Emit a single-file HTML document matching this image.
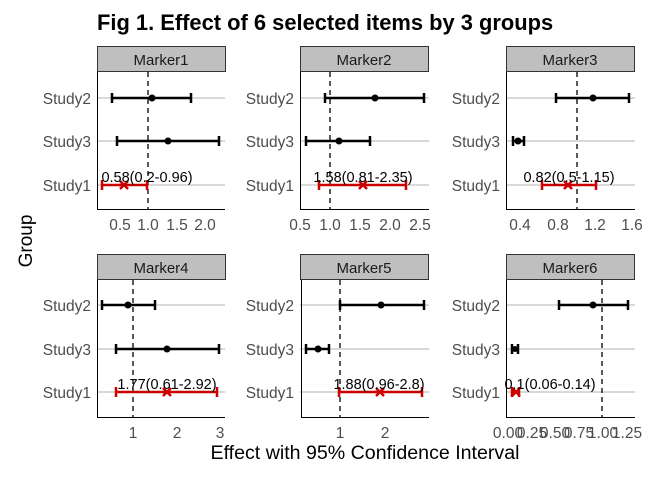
<!DOCTYPE html>
<html><head><meta charset="utf-8"><style>
html,body{margin:0;padding:0;background:#fff;}
svg{display:block;font-family:"Liberation Sans",Arial,sans-serif;}
.tk{font-size:15.5px;fill:#4d4d4d;}
.yl{font-size:15.5px;fill:#4d4d4d;text-anchor:end;}
.st{font-size:15px;fill:#1a1a1a;text-anchor:middle;}
.lab{font-size:14.5px;fill:#000;text-anchor:middle;}
.g{stroke:#b3b3b3;stroke-width:1;}
.b{stroke:#000;stroke-width:2.5;}
.r{stroke:#cc0000;stroke-width:2.5;}
.d{stroke:#000;stroke-width:1.3;stroke-dasharray:5,4;}
</style></head><body>
<svg width="672" height="480" viewBox="0 0 672 480">
<text x="97" y="30" font-size="21.9" font-weight="bold" fill="#000">Fig 1. Effect of 6 selected items by 3 groups</text>
<text transform="translate(32,241) rotate(-90)" font-size="19" text-anchor="middle" fill="#000">Group</text>
<text x="365" y="459" font-size="19.6" text-anchor="middle" fill="#000">Effect with 95% Confidence Interval</text>

<g id="p1">
<rect x="97.5" y="46.5" width="128" height="25" fill="#bfbfbf" stroke="#333"/>
<text class="st" x="161" y="65">Marker1</text>
<line class="g" x1="97" x2="225" y1="98" y2="98"/><line class="g" x1="97" x2="225" y1="141" y2="141"/><line class="g" x1="97" x2="225" y1="185" y2="185"/>
<line class="d" x1="148" x2="148" y1="72" y2="210"/>
<line stroke="#000" x1="97.5" x2="97.5" y1="72" y2="210"/><line stroke="#000" x1="97" x2="225" y1="209.5" y2="209.5"/>
<text class="yl" x="91" y="104">Study2</text><text class="yl" x="91" y="147">Study3</text><text class="yl" x="91" y="191">Study1</text>
<g class="tk" text-anchor="middle"><text x="120" y="230">0.5</text><text x="148" y="230">1.0</text><text x="177" y="230">1.5</text><text x="205" y="230">2.0</text></g>
</g>
<g id="p2">
<rect x="300.5" y="46.5" width="128" height="25" fill="#bfbfbf" stroke="#333"/>
<text class="st" x="364" y="65">Marker2</text>
<line class="g" x1="300" x2="429" y1="98" y2="98"/><line class="g" x1="300" x2="429" y1="141" y2="141"/><line class="g" x1="300" x2="429" y1="185" y2="185"/>
<line class="d" x1="330" x2="330" y1="72" y2="210"/>
<line stroke="#000" x1="300.5" x2="300.5" y1="72" y2="210"/><line stroke="#000" x1="300" x2="429" y1="209.5" y2="209.5"/>
<text class="yl" x="294" y="104">Study2</text><text class="yl" x="294" y="147">Study3</text><text class="yl" x="294" y="191">Study1</text>
<g class="tk" text-anchor="middle"><text x="300" y="230">0.5</text><text x="330" y="230">1.0</text><text x="360" y="230">1.5</text><text x="390" y="230">2.0</text><text x="420" y="230">2.5</text></g>
</g>
<g id="p3">
<rect x="506.5" y="46.5" width="128" height="25" fill="#bfbfbf" stroke="#333"/>
<text class="st" x="570" y="65">Marker3</text>
<line class="g" x1="506" x2="635" y1="98" y2="98"/><line class="g" x1="506" x2="635" y1="141" y2="141"/><line class="g" x1="506" x2="635" y1="185" y2="185"/>
<line class="d" x1="577" x2="577" y1="72" y2="210"/>
<line stroke="#000" x1="506.5" x2="506.5" y1="72" y2="210"/><line stroke="#000" x1="506" x2="635" y1="209.5" y2="209.5"/>
<text class="yl" x="500" y="104">Study2</text><text class="yl" x="500" y="147">Study3</text><text class="yl" x="500" y="191">Study1</text>
<g class="tk" text-anchor="middle"><text x="520" y="230">0.4</text><text x="558" y="230">0.8</text><text x="595" y="230">1.2</text><text x="632" y="230">1.6</text></g>
</g>
<g id="p4">
<rect x="97.5" y="254.5" width="128" height="25" fill="#bfbfbf" stroke="#333"/>
<text class="st" x="161" y="273">Marker4</text>
<line class="g" x1="97" x2="225" y1="305" y2="305"/><line class="g" x1="97" x2="225" y1="349" y2="349"/><line class="g" x1="97" x2="225" y1="392" y2="392"/>
<line class="d" x1="133" x2="133" y1="280" y2="418"/>
<line stroke="#000" x1="97.5" x2="97.5" y1="280" y2="418"/><line stroke="#000" x1="97" x2="225" y1="417.5" y2="417.5"/>
<text class="yl" x="91" y="311">Study2</text><text class="yl" x="91" y="355">Study3</text><text class="yl" x="91" y="398">Study1</text>
<g class="tk" text-anchor="middle"><text x="133" y="438">1</text><text x="177" y="438">2</text><text x="220" y="438">3</text></g>
</g>
<g id="p5">
<rect x="300.5" y="254.5" width="128" height="25" fill="#bfbfbf" stroke="#333"/>
<text class="st" x="364" y="273">Marker5</text>
<line class="g" x1="300" x2="429" y1="305" y2="305"/><line class="g" x1="300" x2="429" y1="349" y2="349"/><line class="g" x1="300" x2="429" y1="392" y2="392"/>
<line class="d" x1="340" x2="340" y1="280" y2="418"/>
<line stroke="#000" x1="301.5" x2="301.5" y1="280" y2="418"/><line stroke="#000" x1="301" x2="429" y1="417.5" y2="417.5"/>
<text class="yl" x="294" y="311">Study2</text><text class="yl" x="294" y="355">Study3</text><text class="yl" x="294" y="398">Study1</text>
<g class="tk" text-anchor="middle"><text x="340" y="438">1</text><text x="385" y="438">2</text></g>
</g>
<g id="p6">
<rect x="506.5" y="254.5" width="128" height="25" fill="#bfbfbf" stroke="#333"/>
<text class="st" x="570" y="273">Marker6</text>
<line class="g" x1="506" x2="635" y1="305" y2="305"/><line class="g" x1="506" x2="635" y1="349" y2="349"/><line class="g" x1="506" x2="635" y1="392" y2="392"/>
<line class="d" x1="602" x2="602" y1="280" y2="418"/>
<line stroke="#000" x1="506.5" x2="506.5" y1="280" y2="418"/><line stroke="#000" x1="506" x2="635" y1="417.5" y2="417.5"/>
<text class="yl" x="500" y="311">Study2</text><text class="yl" x="500" y="355">Study3</text><text class="yl" x="500" y="398">Study1</text>
<g class="tk" text-anchor="middle"><text x="508" y="438">0.00</text><text x="532" y="438">0.25</text><text x="555" y="438">0.50</text><text x="579" y="438">0.75</text><text x="603" y="438">1.00</text><text x="627" y="438">1.25</text></g>
</g>

<g class="b" fill="none">
<path d="M112 98H191M112 93V103M191 93V103M117 141H219M117 136V146M219 136V146"/>
<path d="M325 98H424M325 93V103M424 93V103M306 141H370M306 136V146M370 136V146"/>
<path d="M556 98H629M556 93V103M629 93V103M513 141H524M513 136V146M524 136V146"/>
<path d="M102 305H155M102 300V310M155 300V310M116 349H219M116 344V354M219 344V354"/>
<path d="M340 305H424M340 300V310M424 300V310M306 349H329M306 344V354M329 344V354"/>
<path d="M559 305H628M559 300V310M628 300V310M512 349H518M512 344V354M518 344V354"/>
</g>
<g fill="#000">
<circle cx="152" cy="98" r="3.5"/><circle cx="168" cy="141" r="3.5"/>
<circle cx="375" cy="98" r="3.5"/><circle cx="339" cy="141" r="3.5"/>
<circle cx="593" cy="98" r="3.5"/><circle cx="518" cy="141" r="3.5"/>
<circle cx="128" cy="305" r="3.5"/><circle cx="167" cy="349" r="3.5"/>
<circle cx="381" cy="305" r="3.5"/><circle cx="318" cy="349" r="3.5"/>
<circle cx="593" cy="305" r="3.5"/><circle cx="515" cy="349" r="3"/>
</g>
<g class="r" fill="none">
<path d="M102 185H147M102 180V190M147 180V190M120 181L128 189M128 181L120 189"/>
<path d="M319 185H406M319 180V190M406 180V190M359 181L367 189M367 181L359 189"/>
<path d="M542 185H596M542 180V190M596 180V190M564 181L572 189M572 181L564 189"/>
<path d="M116 392H217M116 387V397M217 387V397M163 388L171 396M171 388L163 396"/>
<path d="M339 392H422M339 387V397M422 387V397M376 388L384 396M384 388L376 396"/>
<path d="M512 392H519M512 387V397M519 387V397M512 388L520 396M520 388L512 396"/>
</g>
<text class="lab" x="147" y="182">0.58(0.2-0.96)</text>
<text class="lab" x="363" y="182">1.58(0.81-2.35)</text>
<text class="lab" x="569" y="182">0.82(0.5-1.15)</text>
<text class="lab" x="167" y="389">1.77(0.61-2.92)</text>
<text class="lab" x="379" y="389">1.88(0.96-2.8)</text>
<text class="lab" x="550" y="389">0.1(0.06-0.14)</text>
</svg>
</body></html>
